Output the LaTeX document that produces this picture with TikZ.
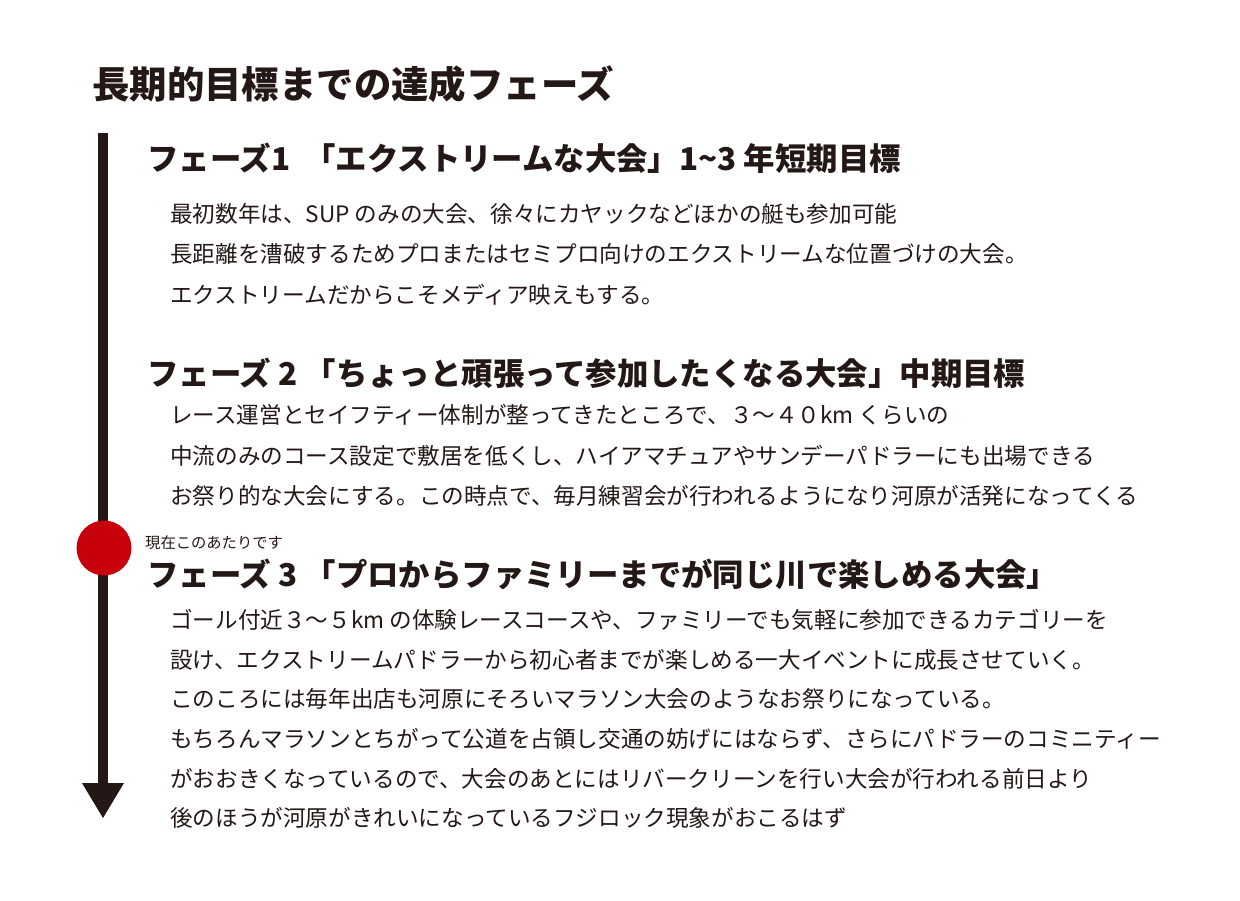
\documentclass[tikz,border=0pt]{standalone}
\usepackage{fontspec}
\newfontfamily\cjk{Noto Sans CJK JP}
\definecolor{ink}{HTML}{231815}
\definecolor{dotred}{HTML}{C8000B}
\begin{document}
\begin{tikzpicture}[x=1pt,y=-1pt,
  title/.style={anchor=base west,inner sep=0pt,text=ink,font=\cjk\bfseries\fontsize{37.4}{37.4}\selectfont},
  head/.style={anchor=base west,inner sep=0pt,text=ink,font=\cjk\bfseries\fontsize{31.4}{31.4}\selectfont},
  body/.style={anchor=base west,inner sep=0pt,text=ink,font=\cjk\fontsize{22.6}{22.6}\selectfont},
  note/.style={anchor=base west,inner sep=0pt,text=ink,font=\cjk\fontsize{15.3}{15.3}\selectfont}]
\useasboundingbox (0,0) rectangle (1240,900);
\fill[white] (0,0) rectangle (1240,900);
% timeline
\coordinate (top) at (103,133);
\coordinate (bot) at (103,786);
\draw[ink,line width=10pt] (top) -- (bot);
\fill[ink] (82,783) -- (124,783) -- (103,818) -- cycle;
\fill[dotred] (104,548) circle (27.5);
% texts
\node[title] (t) at (92,98) {長期的目標までの達成フェーズ};
\node[head] (h1) at (147,170) {フェーズ1\hspace{0.45em}「エクストリームな大会」1\textasciitilde 3 年短期目標};
\node[body] (a1) at (170,222) {最初数年は、SUP のみの大会、徐々にカヤックなどほかの艇も参加可能};
\node[body] (a2) at (170,262) {長距離を漕破するためプロまたはセミプロ向けのエクストリームな位置づけの大会。};
\node[body] (a3) at (170,303) {エクストリームだからこそメディア映えもする。};
\node[head] (h2) at (147,385) {フェーズ 2 「ちょっと頑張って参加したくなる大会」中期目標};
\node[body] (b1) at (170,423) {レース運営とセイフティー体制が整ってきたところで、３～４０km くらいの};
\node[body] (b2) at (170,464) {中流のみのコース設定で敷居を低くし、ハイアマチュアやサンデーパドラーにも出場できる};
\node[body] (b3) at (170,504) {お祭り的な大会にする。この時点で、毎月練習会が行われるようになり河原が活発になってくる};
\node[note] (n) at (145,548) {現在このあたりです};
\node[head] (h3) at (147,586) {フェーズ 3 「プロからファミリーまでが同じ川で楽しめる大会」};
\node[body] (c1) at (170,628) {ゴール付近３～５km の体験レースコースや、ファミリーでも気軽に参加できるカテゴリーを};
\node[body] (c2) at (170,668) {設け、エクストリームパドラーから初心者までが楽しめる一大イベントに成長させていく。};
\node[body] (c3) at (170,707) {このころには毎年出店も河原にそろいマラソン大会のようなお祭りになっている。};
\node[body] (c4) at (170,747) {もちろんマラソンとちがって公道を占領し交通の妨げにはならず、さらにパドラーのコミニティー};
\node[body] (c5) at (170,787) {がおおきくなっているので、大会のあとにはリバークリーンを行い大会が行われる前日より};
\node[body] (c6) at (170,826) {後のほうが河原がきれいになっているフジロック現象がおこるはず};
\end{tikzpicture}
\end{document}
